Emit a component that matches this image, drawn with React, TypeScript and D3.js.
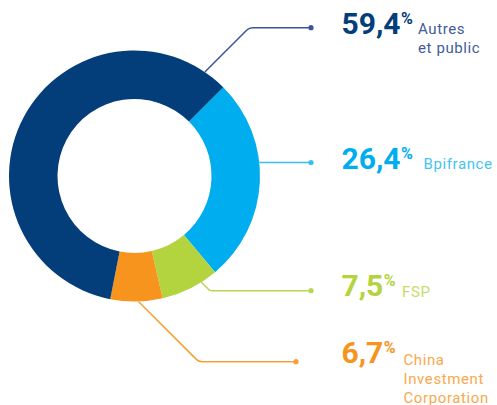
import React from "react";
import * as d3 from "d3";

const labels = ["Bpifrance", "FSP", "China Investment Corporation", "Autres et public"];
const values = [26.4, 7.5, 6.7, 59.4];
const valueTexts = ["26,4", "7,5", "6,7", "59,4"];
const nameLines = [["Bpifrance"], ["FSP"], ["China", "Investment", "Corporation"], ["Autres", "et public"]];
const sliceColors = ["#00aeef", "#b3d33f", "#f7941d", "#033e7b"];
const lineColors = ["#37bff0", "#b8d651", "#f7a036", "#3a5599"];
const nameColors = ["#45c3f1", "#c4dd6c", "#f9a94c", "#3f5c98"];

const W = 497, H = 405;
const cx = 134.5, cy = 176, R = 125.5, r = 77;
// leader: angle on ring (deg), target y, dot x, label baseline, name x
const leaders = [
  { ang: 83.8, y: 162.5, dotX: 311, base: 168.5, nameX: 423.5, nameDy: 0 },
  { ang: 147.8, y: 290.7, dotX: 311, base: 296, nameX: 402, nameDy: 0.5 },
  { ang: 178.2, y: 361.7, dotX: 296, base: 362.5, nameX: 403.5, nameDy: 2 },
  { ang: 34.1, y: 27.7, dotX: 311, base: 33.5, nameX: 418, nameDy: 0 },
];

export default function App() {
  const pie = d3.pie<number>().sort(null).startAngle(Math.PI / 4).endAngle(Math.PI / 4 + 2 * Math.PI);
  const arcs = pie(values);
  const arcGen = d3.arc<d3.PieArcDatum<number>>().innerRadius(r).outerRadius(R);

  const leaderPath = (i: number) => {
    const L = leaders[i];
    const a = (L.ang * Math.PI) / 180;
    const sx = cx + R * Math.sin(a);
    const sy = cy - R * Math.cos(a);
    const p = d3.path();
    p.moveTo(sx, sy);
    const dy = Math.abs(L.y - sy);
    if (dy < 0.5) {
      p.lineTo(L.dotX, L.y);
    } else {
      const cornerX = sx + dy;
      p.arcTo(cornerX, L.y, L.dotX, L.y, dy < 12 ? 5 : 8);
      p.lineTo(L.dotX, L.y);
    }
    return p.toString();
  };

  return (
    <svg width={W} height={H} style={{ position: "absolute", left: 0, top: 0, background: "#fff" }}
      fontFamily="Roboto, sans-serif">
      <g transform={`translate(${cx},${cy})`}>
        {arcs.map((d, i) => (
          <path key={i} d={arcGen(d) || ""} fill={sliceColors[i]} />
        ))}
      </g>
      {leaders.map((L, i) => (
        <g key={i}>
          <path d={leaderPath(i)} fill="none" stroke={lineColors[i]} strokeWidth={1.5} />
          <circle cx={L.dotX} cy={L.y} r={2.6} fill={lineColors[i]} />
        </g>
      ))}
      {leaders.map((L, i) => (
        <g key={"t" + i}>
          <text x={341.5} y={L.base} fontSize={30} fontWeight={700} fill={sliceColors[i]}>
            {valueTexts[i]}
            <tspan fontSize={16} dx={0.5} dy={-10}>%</tspan>
          </text>
          {nameLines[i].map((t, j) => (
            <text key={j} x={L.nameX} y={L.base + L.nameDy + j * 19}
              fontSize={15} fill={nameColors[i]} style={{ letterSpacing: "0.6px" }}>
              {t}
            </text>
          ))}
        </g>
      ))}
    </svg>
  );
}
